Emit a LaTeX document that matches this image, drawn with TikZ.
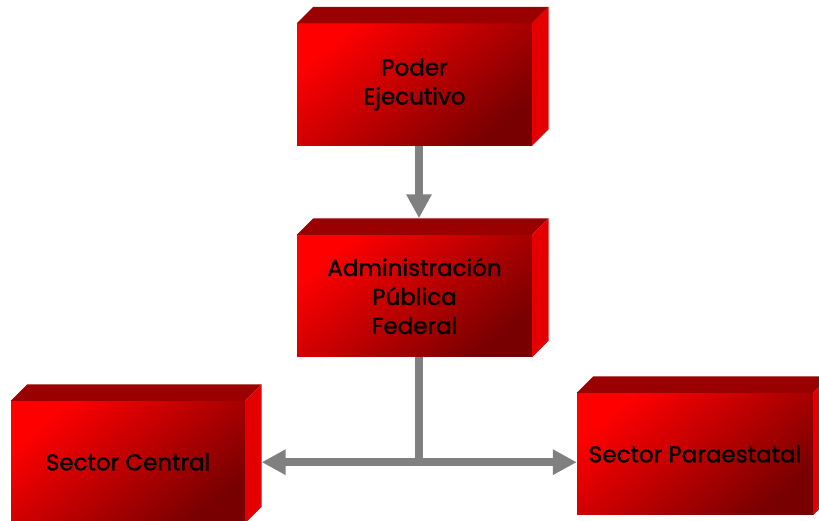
\documentclass[tikz,border=0pt]{standalone}
\usepackage{fontspec}
\setmainfont{Poppins}
\newfontfamily\boxfont{Poppins}[FakeBold=1.2]
\usetikzlibrary{arrows.meta,calc}
\definecolor{frontA}{RGB}{255,0,0}
\definecolor{frontB}{RGB}{120,0,0}
\definecolor{topface}{RGB}{155,0,0}
\definecolor{sideface}{RGB}{228,0,0}
\definecolor{conn}{RGB}{128,128,128}
\tikzset{
  box/.style={minimum width=235pt, minimum height=122pt, inner sep=0pt,
    shading=axis, top color=frontA, bottom color=frontB, shading angle=40,
    align=center, font=\boxfont\fontsize{23}{29}\selectfont, text=black},
  topf/.style={fill=topface},
  sidef/.style={fill=sideface},
  link/.style={draw=conn, line width=8pt},
  arr/.style={link, -{Triangle[width=24pt,length=24pt]}},
}
\newcommand{\faces}[1]{%
  \fill[topf] (#1.north west) -- ++(16.5pt,16.5pt) -- ($(#1.north east)+(16.5pt,16.5pt)$) -- (#1.north east) -- cycle;
  \fill[sidef] (#1.north east) -- ++(16.5pt,16.5pt) -- ($(#1.south east)+(16.5pt,16.5pt)$) -- (#1.south east) -- cycle;
}
\begin{document}
\begin{tikzpicture}[x=1pt,y=1pt]
\useasboundingbox (0,0) rectangle (819,521);
\node[box] (b1) at (414.5,436.5) {Poder\\Ejecutivo};
\faces{b1}
\node[box] (b2) at (414.5,225) {Administración\\Pública\\Federal};
\faces{b2}
\node[box, minimum width=234pt] (b3) at (128,59) {Sector Central};
\faces{b3}
\node[box, minimum width=236pt] (b4) at (695,67) {Sector Paraestatal};
\faces{b4}
\coordinate (v1) at ([xshift=4.5pt]b1.south);
\coordinate (v2) at ($(b2.north)+(4.5pt,16.5pt)$);
\draw[arr] (v1) -- (v2);
\coordinate (s2) at ([xshift=4.5pt]b2.south);
\coordinate (j) at ($(s2)+(0,-105pt)$);
\draw[link] (s2) -- ([yshift=-4pt]j);
\coordinate (l) at ($(b3.east)+(16.5pt,0)$);
\draw[arr] (j) -- (l |- j);
\draw[arr] (j) -- (b4.west |- j);
\end{tikzpicture}
\end{document}
